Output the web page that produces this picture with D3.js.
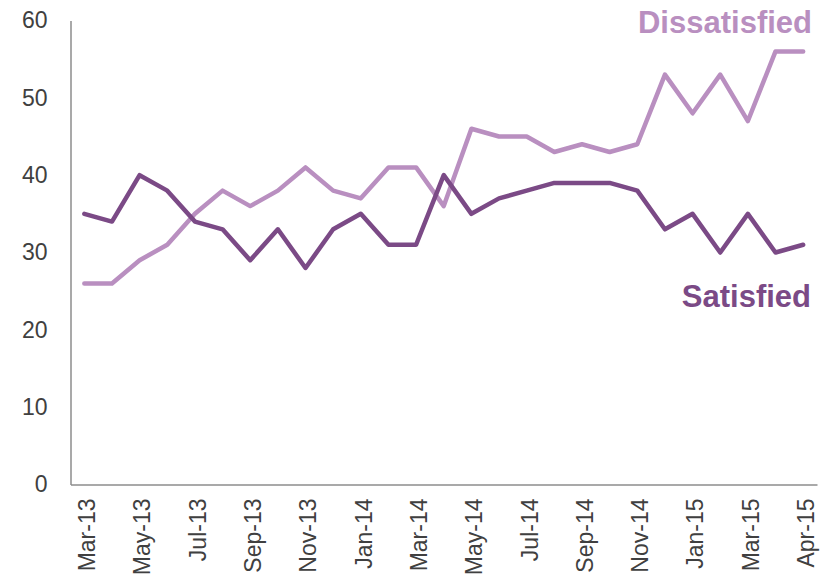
<!DOCTYPE html>
<html>
<head>
<meta charset="utf-8">
<script src="https://cdn.jsdelivr.net/npm/d3@7"></script>
<style>
  body { margin: 0; background: #fff; }
  svg { display: block; font-family: "Liberation Sans", Arial, sans-serif; }
</style>
</head>
<body>
<svg id="chart"></svg>
<script>
// monthly waves; one extra wave sits between Mar-15 and Apr-15
const categories = [
    "Mar-13", "Apr-13", "May-13", "Jun-13", "Jul-13", "Aug-13", "Sep-13", "Oct-13", "Nov-13",
    "Dec-13", "Jan-14", "Feb-14", "Mar-14", "Apr-14", "May-14", "Jun-14", "Jul-14", "Aug-14",
    "Sep-14", "Oct-14", "Nov-14", "Dec-14", "Jan-15", "Feb-15", "Mar-15", "Mar-15 (2)", "Apr-15"
];
const tickLabels = [
    "Mar-13", "May-13", "Jul-13", "Sep-13", "Nov-13", "Jan-14", "Mar-14",
    "May-14", "Jul-14", "Sep-14", "Nov-14", "Jan-15", "Mar-15", "Apr-15"
];
const satisfied = [35, 34, 40, 38, 34, 33, 29, 33, 28, 33, 35, 31, 31, 40, 35, 37, 38, 39, 39, 39, 38, 33, 35, 30, 35, 30, 31];
const dissatisfied = [26, 26, 29, 31, 35, 38, 36, 38, 41, 38, 37, 41, 41, 36, 46, 45, 45, 43, 44, 43, 44, 53, 48, 53, 47, 56, 56];
const yTicks = [0, 10, 20, 30, 40, 50, 60];

const width = 829, height = 576;
const margin = { top: 20.5, right: 12, bottom: 91.5, left: 70.5 };

const svg = d3.select("#chart")
    .attr("width", width)
    .attr("height", height);

const x = d3.scalePoint()
    .domain(categories)
    .range([margin.left, width - margin.right])
    .padding(0.5);

const y = d3.scaleLinear()
    .domain([0, 60])
    .range([height - margin.bottom, margin.top]);

// y axis
const yAxis = svg.append("g")
    .attr("transform", `translate(${margin.left},0)`)
    .call(d3.axisLeft(y).tickValues(yTicks).tickSize(0).tickPadding(23));
yAxis.select(".domain").attr("stroke", "#8c8c8c").attr("stroke-width", 1.5);
yAxis.selectAll("text")
    .attr("fill", "#404040")
    .attr("font-size", "23px")
    .attr("font-family", "Liberation Sans, Arial, sans-serif");

// x axis
const xAxis = svg.append("g")
    .attr("transform", `translate(0,${height - margin.bottom})`)
    .call(d3.axisBottom(x).tickValues(tickLabels).tickSize(0).tickPadding(0));
xAxis.select(".domain").attr("stroke", "#8c8c8c").attr("stroke-width", 1.5);
xAxis.selectAll("text")
    .attr("fill", "#404040")
    .attr("font-size", "23px")
    .attr("font-family", "Liberation Sans, Arial, sans-serif")
    .attr("text-anchor", "end")
    .attr("dy", "0.45em")
    .attr("transform", "translate(0,14) rotate(-90)");

const series = [
    { name: "Dissatisfied", values: dissatisfied, color: "#b98fc0" },
    { name: "Satisfied", values: satisfied, color: "#7b4a86" }
];

const line = d3.line()
    .x((d, i) => x(categories[i]))
    .y(d => y(d));

svg.selectAll("path.series")
    .data(series)
    .join("path")
    .attr("class", "series")
    .attr("fill", "none")
    .attr("stroke", d => d.color)
    .attr("stroke-width", 4.5)
    .attr("stroke-linejoin", "round")
    .attr("stroke-linecap", "round")
    .attr("d", d => line(d.values));

// series labels
svg.append("text")
    .attr("x", 812)
    .attr("y", 33)
    .attr("text-anchor", "end")
    .attr("font-size", "31px")
    .attr("font-weight", "bold")
    .attr("fill", "#b98fc0")
    .text("Dissatisfied");

svg.append("text")
    .attr("x", 811)
    .attr("y", 307)
    .attr("text-anchor", "end")
    .attr("font-size", "31px")
    .attr("font-weight", "bold")
    .attr("fill", "#7b4a86")
    .text("Satisfied");
</script>
</body>
</html>
